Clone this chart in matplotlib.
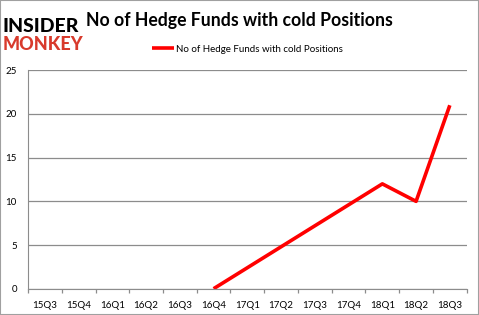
import numpy as np
import matplotlib
matplotlib.use('Agg')
import matplotlib.pyplot as plt
from matplotlib.patches import Rectangle

plt.rcParams['font.family'] = ['Lato', 'DejaVu Sans']

quarters = ['15Q3', '15Q4', '16Q1', '16Q2', '16Q3', '16Q4', '17Q1',
            '17Q2', '17Q3', '17Q4', '18Q1', '18Q2', '18Q3']
cold_funds = [np.nan, np.nan, np.nan, np.nan, np.nan, 0, 2.4,
              4.8, 7.2, 9.6, 12, 10, 21]
y_ticks = [0, 5, 10, 15, 20, 25]

fig = plt.figure(figsize=(4.79, 3.15), dpi=100)
ax = fig.add_axes([0.0585, 0.0835, 0.9158, 0.6933])

x = np.arange(len(quarters))
ax.plot(x, cold_funds, color='#ff0000', linewidth=2.6, solid_capstyle='butt',
        label='No of Hedge Funds with cold Positions')

ax.set_xlim(-0.5, len(quarters) - 0.5)
ax.set_ylim(0, 25)
ax.set_yticks(y_ticks)
ax.set_yticklabels([str(v) for v in y_ticks], fontsize=7)
for v in y_ticks:
    ax.axhline(v, color='#8c8c8c', linewidth=0.9, zorder=0)

ax.set_xticks(np.arange(len(quarters) + 1) - 0.5)
ax.set_xticklabels([])
ax.set_xticks(x, minor=True)
ax.set_xticklabels(quarters, minor=True, fontsize=7)
ax.tick_params(axis='x', which='major', length=3, color='#8c8c8c', width=0.9)
ax.tick_params(axis='x', which='minor', length=0, pad=9)
ax.tick_params(axis='y', length=0, pad=8)

for s in ['top', 'right']:
    ax.spines[s].set_visible(False)
ax.spines['left'].set_color('#8c8c8c')
ax.spines['bottom'].set_color('#8c8c8c')

fig.text(0.5, 0.936, 'No of Hedge Funds with cold Positions', ha='center',
         va='center', fontsize=12.7, fontweight='bold')
ax.legend(loc='center', bbox_to_anchor=(0.5, 1.0975), frameon=False, fontsize=7,
          handlelength=2.2, handletextpad=0.2)

fig.text(0.006, 0.915, 'INSIDER', ha='left', va='center', fontsize=14,
         fontweight='black', color='black')
fig.text(0.006, 0.86, 'MONKEY', ha='left', va='center', fontsize=13,
         fontweight='black', color='#d83a2c')

fig.patches.append(Rectangle((0, 0), 1, 1, transform=fig.transFigure, fill=False,
                             edgecolor='#a0a0a0', linewidth=1.5))

fig.savefig('out.png', dpi=100)
